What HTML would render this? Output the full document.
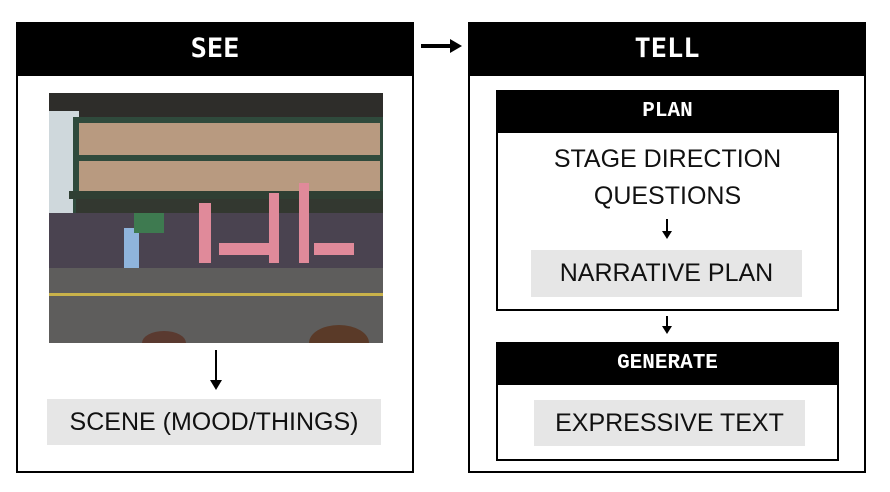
<!DOCTYPE html>
<html><head><style>
body{margin:0;width:890px;height:492px;background:#fff;position:relative;overflow:hidden;font-family:"Liberation Sans",sans-serif}
.a{position:absolute;box-sizing:border-box}
.box{border:2px solid #000}
.hd{background:#000;color:#fff;font-family:"Liberation Mono","DejaVu Sans Mono",monospace;font-weight:bold;text-align:center}
.g{background:#e6e6e6;text-align:center;font-size:25px;color:#111}
.t{text-align:center;font-size:25px;color:#111}
.big{font-family:"DejaVu Sans Mono",monospace;font-size:27px}
</style></head><body>
<div class="a box" style="left:16px;top:22px;width:398px;height:451px"></div>
<div class="a hd big" style="left:16px;top:22px;width:398px;height:54px;line-height:54px">SEE</div>
<svg class="a" style="left:49px;top:93px" width="334" height="250" viewBox="0 0 334 250">
<rect width="334" height="250" fill="#6a6a68"/>
<rect x="0" y="0" width="334" height="40" fill="#2e2d2a"/>
<rect x="0" y="18" width="30" height="140" fill="#cfd8dc"/>
<rect x="27" y="27" width="307" height="90" fill="#b89a80"/>
<rect x="27" y="27" width="307" height="90" fill="none" stroke="#2f4a3c" stroke-width="6"/>
<rect x="27" y="62" width="307" height="6" fill="#2f4a3c"/>
<rect x="20" y="98" width="314" height="8" fill="#2f3f33"/>
<rect x="27" y="106" width="307" height="30" fill="#333830"/>
<rect x="0" y="120" width="334" height="55" fill="#4a4350"/>
<g fill="#e08a9a"><rect x="150" y="110" width="12" height="60"/><rect x="220" y="100" width="10" height="70"/><rect x="250" y="90" width="10" height="80"/><rect x="170" y="150" width="50" height="12"/><rect x="265" y="150" width="40" height="12"/></g>
<rect x="75" y="135" width="15" height="45" fill="#8fb4dc"/>
<rect x="85" y="120" width="30" height="20" fill="#3e7a50"/>
<rect x="0" y="175" width="334" height="75" fill="#5e5d5c"/>
<rect x="0" y="200" width="334" height="3" fill="#c9b24a"/>
<ellipse cx="290" cy="250" rx="30" ry="18" fill="#5a3a28"/>
<ellipse cx="115" cy="250" rx="22" ry="12" fill="#5a3a30"/>
</svg>
<div class="a" style="left:215px;top:350px;width:2px;height:32px;background:#000"></div>
<div class="a" style="left:210px;top:380px;width:0;height:0;border-left:6px solid transparent;border-right:6px solid transparent;border-top:10px solid #000"></div>
<div class="a g" style="left:47px;top:399px;width:334px;height:46px;line-height:46px">SCENE (MOOD/THINGS)</div>
<div class="a" style="left:421px;top:44px;width:30px;height:4px;background:#000"></div>
<div class="a" style="left:450px;top:39px;width:0;height:0;border-top:7px solid transparent;border-bottom:7px solid transparent;border-left:12px solid #000"></div>
<div class="a box" style="left:468px;top:22px;width:398px;height:451px"></div>
<div class="a hd big" style="left:468px;top:22px;width:398px;height:54px;line-height:54px">TELL</div>
<div class="a box" style="left:496px;top:90px;width:343px;height:221px"></div>
<div class="a hd" style="left:496px;top:90px;width:343px;height:43px;line-height:43px;font-size:21px">PLAN</div>
<div class="a t" style="left:496px;top:141px;width:343px;line-height:37px">STAGE DIRECTION<br>QUESTIONS</div>
<div class="a" style="left:666px;top:219px;width:2px;height:14px;background:#000"></div>
<div class="a" style="left:662px;top:231px;width:0;height:0;border-left:5px solid transparent;border-right:5px solid transparent;border-top:8px solid #000"></div>
<div class="a g" style="left:531px;top:250px;width:271px;height:47px;line-height:47px">NARRATIVE PLAN</div>
<div class="a" style="left:666px;top:316px;width:2px;height:12px;background:#000"></div>
<div class="a" style="left:662px;top:326px;width:0;height:0;border-left:5px solid transparent;border-right:5px solid transparent;border-top:8px solid #000"></div>
<div class="a box" style="left:496px;top:342px;width:343px;height:119px"></div>
<div class="a hd" style="left:496px;top:342px;width:343px;height:43px;line-height:43px;font-size:21px">GENERATE</div>
<div class="a g" style="left:534px;top:400px;width:271px;height:46px;line-height:46px">EXPRESSIVE TEXT</div>
</body></html>
